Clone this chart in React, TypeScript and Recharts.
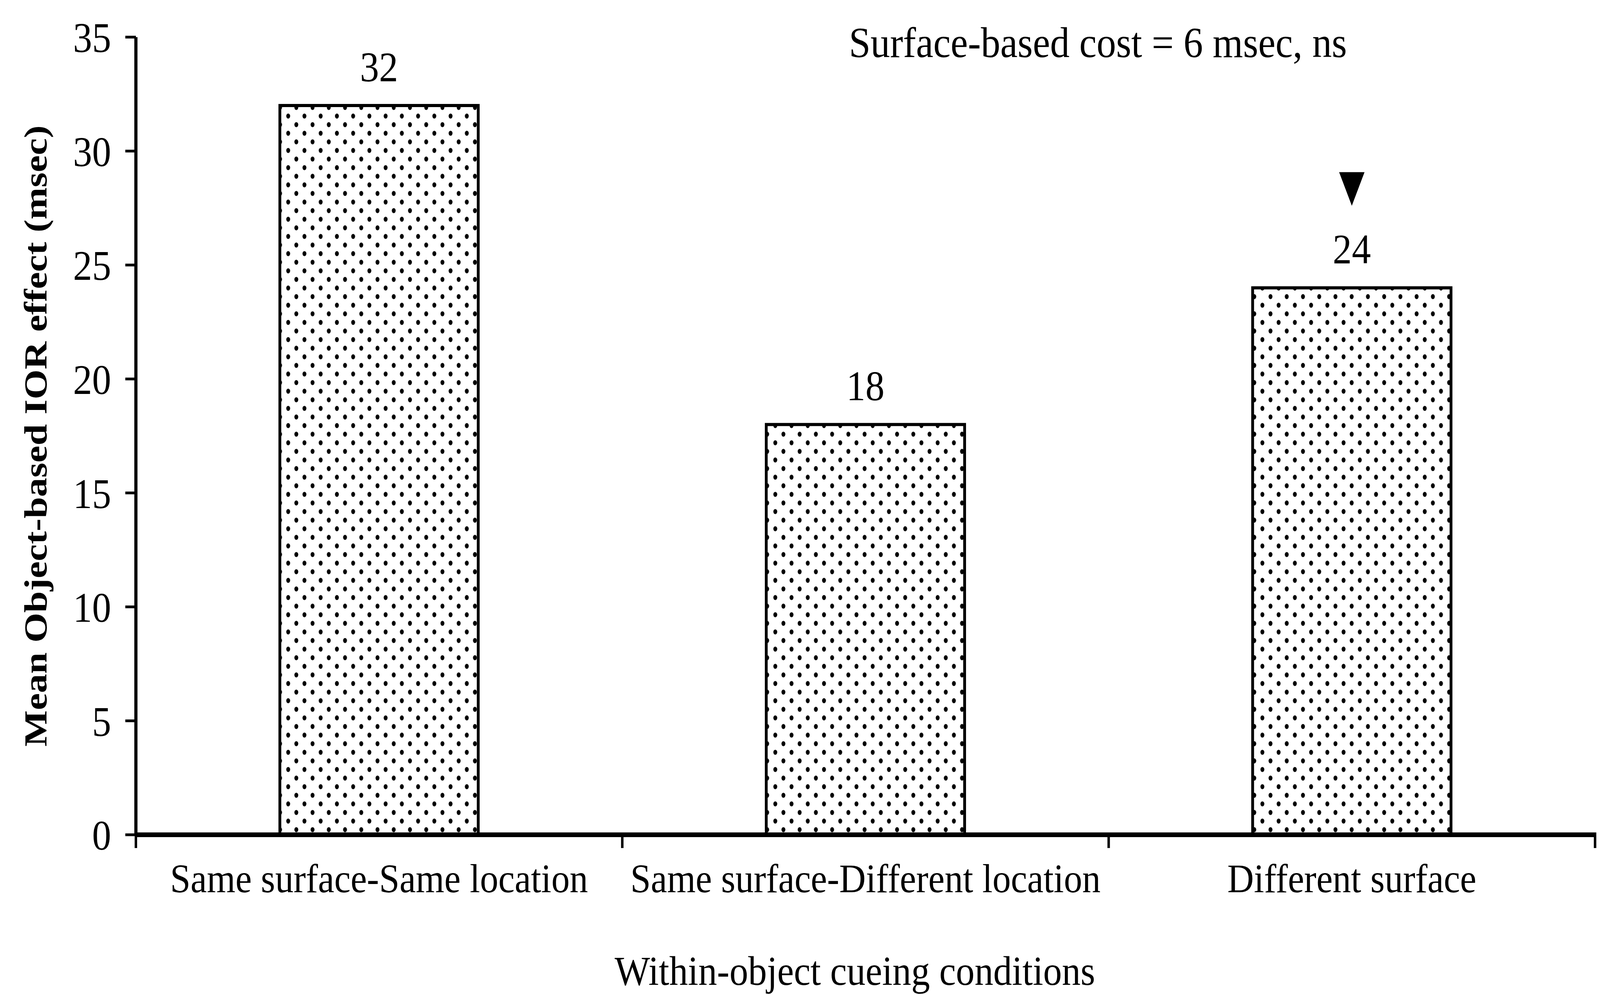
import React from 'react';
import { BarChart, Bar, XAxis, YAxis, LabelList } from 'recharts';

// Within-object cueing conditions and mean object-based IOR effect (msec)
const conditions = ['Same surface-Same location', 'Same surface-Different location', 'Different surface'];
const iorEffect = [32, 18, 24];
const markedBars = [false, false, true];
const yTicks = [0, 5, 10, 15, 20, 25, 30, 35];

const data = conditions.map((name, i) => ({ name, value: iorEffect[i], marked: markedBars[i] }));

// drawing space matches the reference picture; squeezed to the real viewport width below
const W = 4533;
const H = 2546;
const MARGIN = { top: 95, right: 14, left: 0, bottom: 0 };
const Y_AXIS_W = 385;
const X_AXIS_H = 410;
const FONT = '"Liberation Serif", "Times New Roman", serif';

const plotW = W - MARGIN.left - MARGIN.right - Y_AXIS_W;
const bandHalf = plotW / conditions.length / 2;

function CategoryTick(props: any) {
  const { x, y, payload, index } = props;
  const half = payload && payload.offset > 1 ? payload.offset : bandHalf;
  const last = index === conditions.length - 1;
  return (
    <g>
      <line x1={x - half} x2={x - half} y1={y - 6} y2={y + 34} stroke="#000" strokeWidth={7} />
      {last && <line x1={x + half} x2={x + half} y1={y - 6} y2={y + 34} stroke="#000" strokeWidth={7} />}
      <text x={x} y={y + 147} textAnchor="middle" fontFamily={FONT} fontSize={104} fill="#000">
        {payload.value}
      </text>
    </g>
  );
}

function ValueLabel(props: any) {
  const { x, y, width, value, index } = props;
  const cx = x + width / 2;
  return (
    <g>
      <text x={cx} y={y - 62} textAnchor="middle" fontFamily={FONT} fontSize={108} fill="#000">
        {value}
      </text>
      {data[index] && data[index].marked && (
        <path d={`M${cx - 36},${y - 296} L${cx + 36},${y - 296} L${cx},${y - 210} Z`} fill="#000" />
      )}
    </g>
  );
}

export default function App() {
  const viewW = typeof window !== 'undefined' ? Math.min(W, window.innerWidth || W) : W;
  const sx = viewW / W;
  const plotCx = MARGIN.left + Y_AXIS_W + plotW / 2;
  const plotCy = MARGIN.top + (H - MARGIN.top - MARGIN.bottom - X_AXIS_H) / 2;
  return (
    <div style={{ position: 'absolute', left: 0, top: 0, width: viewW, height: H, overflow: 'hidden', background: '#fff' }}>
      <div style={{ width: W, height: H, transform: `scale(${sx}, 1)`, transformOrigin: '0 0' }}>
        <BarChart width={W} height={H} data={data} margin={MARGIN} barCategoryGap="29.6%">
          <defs>
            <pattern id="dots" width={46} height={44} patternUnits="userSpaceOnUse">
              <rect width={46} height={44} fill="#fff" />
              <ellipse cx={11.5} cy={11} rx={5.5} ry={6.5} fill="#000" />
              <ellipse cx={34.5} cy={33} rx={5.5} ry={6.5} fill="#000" />
            </pattern>
          </defs>
          <XAxis
            dataKey="name"
            height={X_AXIS_H}
            interval={0}
            axisLine={{ stroke: '#000', strokeWidth: 12 }}
            tickLine={false}
            tickSize={0}
            tickMargin={0}
            tick={(p: any) => <CategoryTick {...p} />}
          />
          <YAxis
            width={Y_AXIS_W}
            domain={[0, 35]}
            ticks={yTicks}
            interval={0}
            axisLine={{ stroke: '#000', strokeWidth: 9 }}
            tickLine={{ stroke: '#000', strokeWidth: 7 }}
            tickSize={30}
            tickMargin={40}
            tick={{ fill: '#000', fontSize: 108, fontFamily: FONT }}
          />
          <Bar dataKey="value" fill="url(#dots)" stroke="#000" strokeWidth={8} isAnimationActive={false}>
            <LabelList dataKey="value" content={(p: any) => <ValueLabel {...p} />} />
          </Bar>
          <text x={2405} y={146} fontFamily={FONT} fontSize={110} fill="#000" textLength={1411} lengthAdjust="spacingAndGlyphs">
            Surface-based cost = 6 msec, ns
          </text>
          <text
            x={101}
            y={plotCy}
            transform={`rotate(-90 101 ${plotCy})`}
            textAnchor="middle"
            dominantBaseline="central"
            fontFamily={FONT}
            fontWeight="bold"
            fontSize={92}
            fill="#000"
            textLength={1590}
            lengthAdjust="spacingAndGlyphs"
          >
            Mean Object-based IOR effect (msec)
          </text>
          <text x={plotCx - 30} y={2520} textAnchor="middle" fontFamily={FONT} fontSize={106} fill="#000">
            Within-object cueing conditions
          </text>
        </BarChart>
      </div>
    </div>
  );
}
